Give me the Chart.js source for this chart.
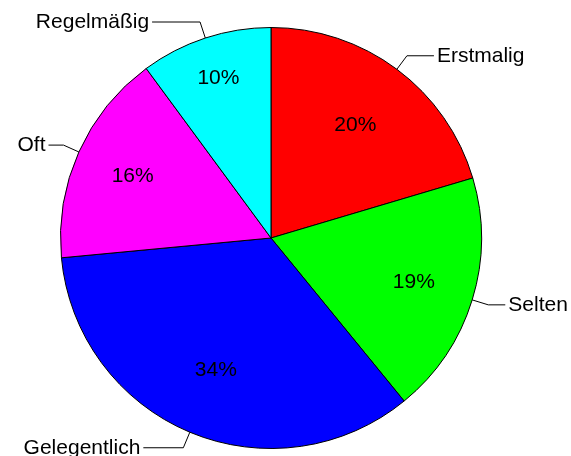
<!DOCTYPE html>
<html>
<head>
<meta charset="utf-8">
<script src="https://cdn.jsdelivr.net/npm/chart.js@4/dist/chart.umd.min.js"></script>
<style>
  html, body { margin: 0; padding: 0; background: #fff; }
  #wrap { width: 571px; height: 456px; }
</style>
</head>
<body>
<div id="wrap"><canvas id="pie_chart"></canvas></div>
<script>
// values (slice angles), shown rounded
let categories = ['Erstmalig', 'Selten', 'Gelegentlich', 'Oft', 'Regelmäßig'];
let shares = [20.4, 18.7, 34.4, 16.4, 10.1];
let slice_colors = ['#FF0000', '#00FF00', '#0000FF', '#FF00FF', '#00FFFF'];

// where the percent text sits (fraction of radius) and leader tail length per slice
let pct_radius = [0.67, 0.71, 0.68, 0.72, 0.8];
let leader_len = [27, 17, 40, 15, 48];

const font = '21px "Liberation Sans", Arial, sans-serif';

const pieLabels = {
  id: 'pieLabels',
  afterDatasetsDraw(chart){
    const ctx = chart.ctx;
    const meta = chart.getDatasetMeta(0);
    const total = shares.reduce((a, b) => a + b, 0);
    ctx.save();
    ctx.font = font;
    ctx.fillStyle = '#000';
    ctx.strokeStyle = '#000';
    ctx.lineWidth = 1;
    meta.data.forEach((arc, i) => {
      const p = arc.getProps(['x', 'y', 'startAngle', 'endAngle', 'outerRadius'], true);
      const mid = (p.startAngle + p.endAngle) / 2;
      const cos = Math.cos(mid), sin = Math.sin(mid);
      // percent inside
      const pr = p.outerRadius * pct_radius[i];
      ctx.textAlign = 'center';
      ctx.textBaseline = 'middle';
      ctx.fillText(Math.round(shares[i] / total * 100) + '%', p.x + cos * pr, p.y + sin * pr);
      // leader line
      const ex = p.x + cos * p.outerRadius, ey = p.y + sin * p.outerRadius;
      const bx = p.x + cos * p.outerRadius * 1.08, by = p.y + sin * p.outerRadius * 1.08;
      const dir = cos >= 0 ? 1 : -1;
      const tx = bx + dir * leader_len[i];
      ctx.beginPath();
      ctx.moveTo(ex, ey);
      ctx.lineTo(bx, by);
      ctx.lineTo(tx, by);
      ctx.stroke();
      ctx.textAlign = dir > 0 ? 'left' : 'right';
      ctx.fillText(categories[i], tx + dir * 3, by);
    });
    ctx.restore();
  }
};

let pie_ctx = document.getElementById('pie_chart').getContext('2d');
let mychart = new Chart(pie_ctx, {
  type: 'pie',
  data: {
    labels: categories,
    datasets: [{
      data: shares,
      backgroundColor: slice_colors,
      borderColor: '#000',
      borderWidth: 1,
      borderAlign: 'center'
    }]
  },
  options: {
    responsive: true,
    maintainAspectRatio: false,
    animation: false,
    layout: { padding: { left: 30, right: 59, top: 27, bottom: 7 } },
    plugins: {
      legend: { display: false },
      tooltip: { enabled: false },
      title: { display: false }
    }
  },
  plugins: [pieLabels]
});
</script>
</body>
</html>
